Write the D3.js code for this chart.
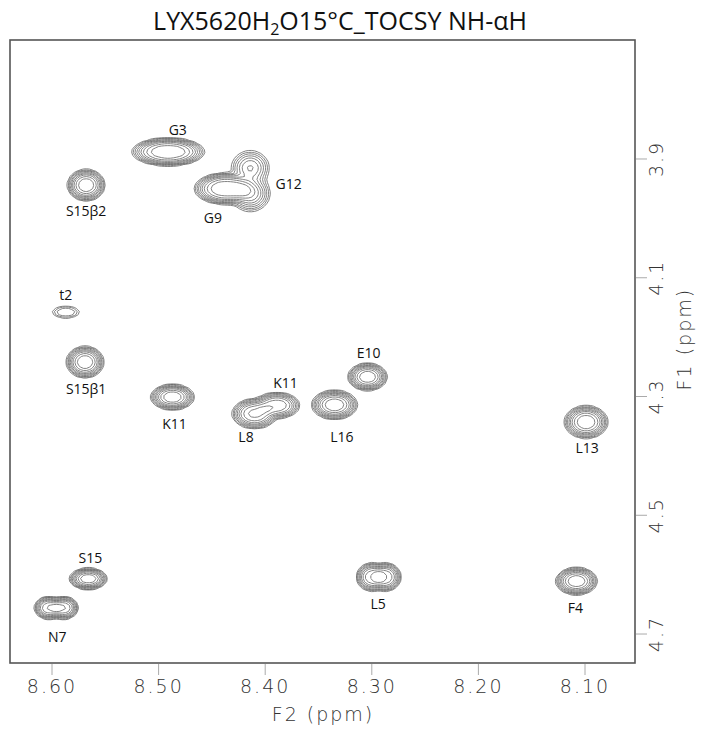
<!DOCTYPE html>
<html><head><meta charset="utf-8">
<script src="https://cdn.jsdelivr.net/npm/d3@7"></script>
<style>body{margin:0;background:#fff}</style></head>
<body>
<script>
// ---- data ----
const peakNames  = ["G3","G9","G12a","G12b","S15b2","t2","S15b1","K11a","L8","K11b","L16","E10","L13","S15","N7a","N7b","L5a","L5b","F4"];
const peakF2     = [8.491,8.437,8.414,8.414,8.568,8.587,8.569,8.487,8.410,8.389,8.335,8.304,8.099,8.566,8.603,8.589,8.300,8.287,8.108];
const peakF1     = [3.888,3.950,3.915,3.958,3.944,4.158,4.242,4.301,4.329,4.315,4.314,4.267,4.343,4.607,4.656,4.656,4.604,4.604,4.611];
const peakHalfWidthF2 = [0.0335,0.0290,0.0195,0.0195,0.0172,0.0165,0.0172,0.0200,0.0210,0.0215,0.0210,0.0180,0.0200,0.0172,0.0135,0.0135,0.0145,0.0145,0.0190];
const peakHalfWidthF1 = [0.0230,0.0260,0.0320,0.0320,0.0260,0.0130,0.0260,0.0210,0.0250,0.0220,0.0240,0.0225,0.0270,0.0175,0.0190,0.0190,0.0240,0.0240,0.0225];
const peakAmplitude   = [1.0,1.0,0.45,0.6,1.0,0.15,1.0,1.0,0.85,0.75,1.0,1.0,1.0,1.0,0.8,0.8,0.75,0.75,1.0];
const peakShape       = [3.5,3.5,2.2,2.2,3,3,3,3,3,3,3,3,3,3,3,3,3,3,3];

const labelText = ["G3","G9","G12","S15β2","t2","S15β1","K11","K11","L8","L16","E10","L13","S15","N7","L5","F4"];
const labelF2   = [8.482,8.449,8.378,8.568,8.587,8.568,8.485,8.381,8.418,8.328,8.303,8.098,8.564,8.595,8.294,8.109];
const labelF1   = [3.851,3.999,3.942,3.988,4.129,4.287,4.346,4.277,4.368,4.368,4.227,4.387,4.572,4.705,4.649,4.656];

const xTicks = [8.60,8.50,8.40,8.30,8.20,8.10];
const yTicks = [3.9,4.1,4.3,4.5,4.7];
const contourLevels = [0.04,0.065,0.1,0.15,0.22,0.31,0.43,0.6,0.8];

// ---- layout ----
const W = 701, H = 730;
const L = 10, R = 635, T = 40, B = 663;
const x = d3.scaleLinear().domain([8.6394, 8.0531]).range([L, R]);
const y = d3.scaleLinear().domain([3.6996, 4.7488]).range([T, B]);

const svg = d3.select("body").append("svg").attr("width", W).attr("height", H);

svg.append("defs").append("clipPath").attr("id","clip")
  .append("rect").attr("x",L).attr("y",T).attr("width",R-L).attr("height",B-T);

// ---- contour grid ----
const cell = 3;
const nx = Math.ceil((R-L)/cell), ny = Math.ceil((B-T)/cell);
const values = new Float64Array(nx*ny);
for (let k = 0; k < peakF2.length; k++) {
  const cx = x(peakF2[k]), cy = y(peakF1[k]);
  const hx = Math.abs(x(peakF2[k]+peakHalfWidthF2[k]) - cx);
  const hy = Math.abs(y(peakF1[k]+peakHalfWidthF1[k]) - cy);
  const i0 = Math.max(0, Math.floor((cx-2.5*hx-L)/cell)), i1 = Math.min(nx-1, Math.ceil((cx+2.5*hx-L)/cell));
  const j0 = Math.max(0, Math.floor((cy-2.5*hy-T)/cell)), j1 = Math.min(ny-1, Math.ceil((cy+2.5*hy-T)/cell));
  for (let j = j0; j <= j1; j++) {
    const py = T + (j+0.5)*cell;
    for (let i = i0; i <= i1; i++) {
      const px = L + (i+0.5)*cell;
      const r = Math.hypot((px-cx)/hx, (py-cy)/hy);
      values[j*nx+i] += peakAmplitude[k]*Math.exp(-3*Math.pow(r, peakShape[k]));
    }
  }
}
const contours = d3.contours().size([nx, ny]).thresholds(contourLevels)(values);
const proj = d3.geoTransform({point: function(gx, gy){ this.stream.point(L + gx*cell, T + gy*cell); }});
const path = d3.geoPath(proj);

svg.append("g").attr("clip-path","url(#clip)")
  .selectAll("path").data(contours).join("path")
  .attr("d", path)
  .attr("fill","none")
  .attr("stroke","#5a5a5a")
  .attr("stroke-width",0.75)
  .attr("stroke-linejoin","round");

// ---- frame ----
svg.append("rect").attr("x",L).attr("y",T).attr("width",R-L).attr("height",B-T)
  .attr("fill","none").attr("stroke","#555").attr("stroke-width",1.6);

// ---- bottom axis ----
const axisFont = "'DejaVu Sans', sans-serif";
const gx = svg.append("g");
gx.selectAll("line").data(xTicks).join("line")
  .attr("x1", d=>x(d)).attr("x2", d=>x(d)).attr("y1", B+1).attr("y2", B+12)
  .attr("stroke","#aaa").attr("stroke-width",1);
gx.selectAll("text").data(xTicks).join("text")
  .attr("x", d=>x(d)).attr("y", 693)
  .attr("text-anchor","middle")
  .attr("font-family", axisFont).attr("font-weight",200).attr("font-size",19)
  .attr("letter-spacing",2).attr("fill","#333")
  .text(d=>d.toFixed(2));
svg.append("text").attr("x", 323).attr("y", 721).attr("text-anchor","middle")
  .attr("font-family", axisFont).attr("font-weight",200).attr("font-size",19)
  .attr("letter-spacing",2).attr("fill","#333").text("F2 (ppm)");

// ---- right axis ----
const gy = svg.append("g");
gy.selectAll("line").data(yTicks).join("line")
  .attr("x1", R+1).attr("x2", R+12).attr("y1", d=>y(d)).attr("y2", d=>y(d))
  .attr("stroke","#aaa").attr("stroke-width",1);
gy.selectAll("text").data(yTicks).join("text")
  .attr("transform", d=>`translate(663,${y(d)}) rotate(-90)`)
  .attr("text-anchor","middle")
  .attr("font-family", axisFont).attr("font-weight",200).attr("font-size",19)
  .attr("letter-spacing",2).attr("fill","#333")
  .text(d=>d.toFixed(1));
svg.append("text").attr("transform", `translate(691,${(y(4.1)+y(4.3))/2 + 2}) rotate(-90)`)
  .attr("text-anchor","middle")
  .attr("font-family", axisFont).attr("font-weight",200).attr("font-size",19)
  .attr("letter-spacing",2).attr("fill","#333").text("F1 (ppm)");

// ---- peak labels ----
svg.append("g").selectAll("text").data(labelText).join("text")
  .attr("x",(d,i)=>x(labelF2[i])).attr("y",(d,i)=>y(labelF1[i]))
  .attr("dy","0.36em")
  .attr("text-anchor","middle")
  .attr("font-family","'Open Sans', sans-serif").attr("font-size",14).attr("fill","#111")
  .text(d=>d);

// ---- title ----
const title = svg.append("text").attr("x",340).attr("y",30).attr("text-anchor","middle")
  .attr("font-family","'Open Sans', sans-serif").attr("font-size",25).attr("fill","#111");
title.append("tspan").text("LYX5620H");
title.append("tspan").attr("font-size",16).attr("dy",5).text("2");
title.append("tspan").attr("dy",-5).text("O15°C_TOCSY NH-αH");
</script>
</body></html>
